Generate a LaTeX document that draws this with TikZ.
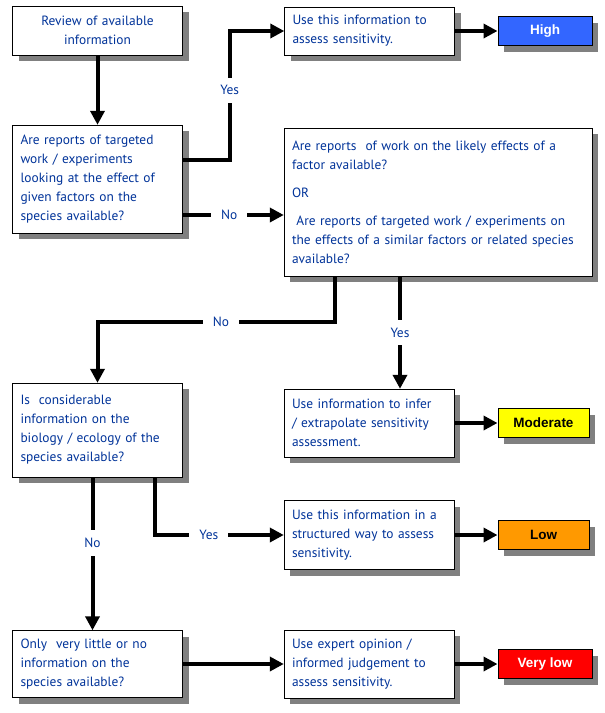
\documentclass[tikz,border=0pt]{standalone}
\usepackage{fontspec}
\setmainfont{PT Sans}
\newfontfamily\ratefont{Liberation Sans}
\usetikzlibrary{arrows.meta,shadows}
\definecolor{inkblue}{HTML}{003399}
\definecolor{highblue}{HTML}{3366FF}
\definecolor{loworange}{HTML}{FF9900}
\definecolor{modyellow}{HTML}{FFFF00}
\definecolor{vlowred}{HTML}{FF0000}

\begin{document}
\begin{tikzpicture}[x=1pt, y=-1pt, font=\fontsize{13.4}{19}\selectfont, % 1px = 1pt, y downwards
  box/.style={draw, thin, fill=white, text=inkblue, inner xsep=8pt, text width=154pt, align=left,
    general shadow={fill=black!50, draw=none, shadow xshift=6pt, shadow yshift=-6pt}},
  rate/.style={draw, line width=1pt, minimum width=94pt, minimum height=29pt,
    font=\ratefont\bfseries\fontsize{13.5}{15}\selectfont,
    general shadow={fill=black!50, draw=none, shadow xshift=6pt, shadow yshift=-6pt}},
  flow/.style={line width=4pt, -{Triangle[length=14pt,width=14pt]}}, % thick connectors
  lbl/.style={fill=white, text=inkblue, inner xsep=10pt, inner ysep=8pt}]
  \useasboundingbox (0,0) rectangle (605,713);

  % left column: questions
  \node[box, align=center, minimum height=49pt] (review) at (97.5,30.5) {Review of available\\information};
  \node[box, minimum height=108pt] (targeted) at (97.5,179) {Are reports of targeted\\work / experiments\\looking at the effect of\\given factors on the\\species available?};
  \node[box, minimum height=94pt] (biology) at (97.5,430) {Is~~considerable\\information on the\\biology / ecology of the\\species available?};
  \node[box, minimum height=67pt] (little) at (97.5,664) {Only~~very little or no\\information on the\\species available?};

  % middle column
  \node[box, minimum height=48pt] (usedirect) at (369.5,31) {Use this information to\\assess sensitivity.};
  \node[box, text width=292pt, minimum height=148pt] (likely) at (438,202) {Are reports~~of work on the likely effects of a\\factor available?\\[9pt]OR\\[9pt]~Are reports of targeted work / experiments on\\the effects of a similar factors or related species\\available?};
  \node[box, minimum height=68pt] (infer) at (369,423) {Use information to infer\\/ extrapolate sensitivity\\assessment.};
  \node[box, minimum height=69pt] (structured) at (369,535) {Use this information in a\\structured way to assess\\sensitivity.};
  \node[box, minimum height=68pt] (expert) at (369,664) {Use expert opinion /\\informed judgement to\\assess sensitivity.};

  % right column: sensitivity
  \node[rate, fill=highblue, text=white] (high) at (545,31) {High};
  \node[rate, fill=modyellow, minimum width=91pt] (moderate) at (543.5,423) {Moderate};
  \node[rate, fill=loworange, minimum width=91pt] (low) at (543.5,535) {Low};
  \node[rate, fill=vlowred, text=white] (verylow) at (545,664) {Very low};

  % connectors
  \draw[flow] (review.south) -- (targeted.north);
  \draw[flow] ([yshift=19pt]targeted.east) -- ++(47,0) |- node[lbl, pos=0.27] (yes1) {Yes} (usedirect.west);
  \draw[flow] ([yshift=-36pt]targeted.east) coordinate (nostart) -- node[lbl, pos=0.46] (no1) {No} (nostart -| likely.west);
  \draw[flow] ([xshift=-103pt]likely.south) -- ++(0,46) -| node[lbl, pos=0.24] (no2) {No} (biology.north);
  \draw[flow] ([xshift=-38pt]likely.south) coordinate (yesstart) -- node[lbl] (yes2) {Yes} (yesstart |- infer.north);
  \draw[flow] ([xshift=-5pt]biology.south) -- node[lbl, pos=0.43] (no3) {No} ([xshift=-5pt]little.north);
  \draw[flow] ([xshift=57pt]biology.south) |- node[lbl, pos=0.71] (yes3) {Yes} (structured.west);
  \draw[flow] (little) -- (expert);

  \draw[flow] (usedirect) -- (high);
  \draw[flow] (infer) -- (moderate);
  \draw[flow] (structured) -- (low);
  \draw[flow] (expert) -- (verylow);
\end{tikzpicture}
\end{document}
